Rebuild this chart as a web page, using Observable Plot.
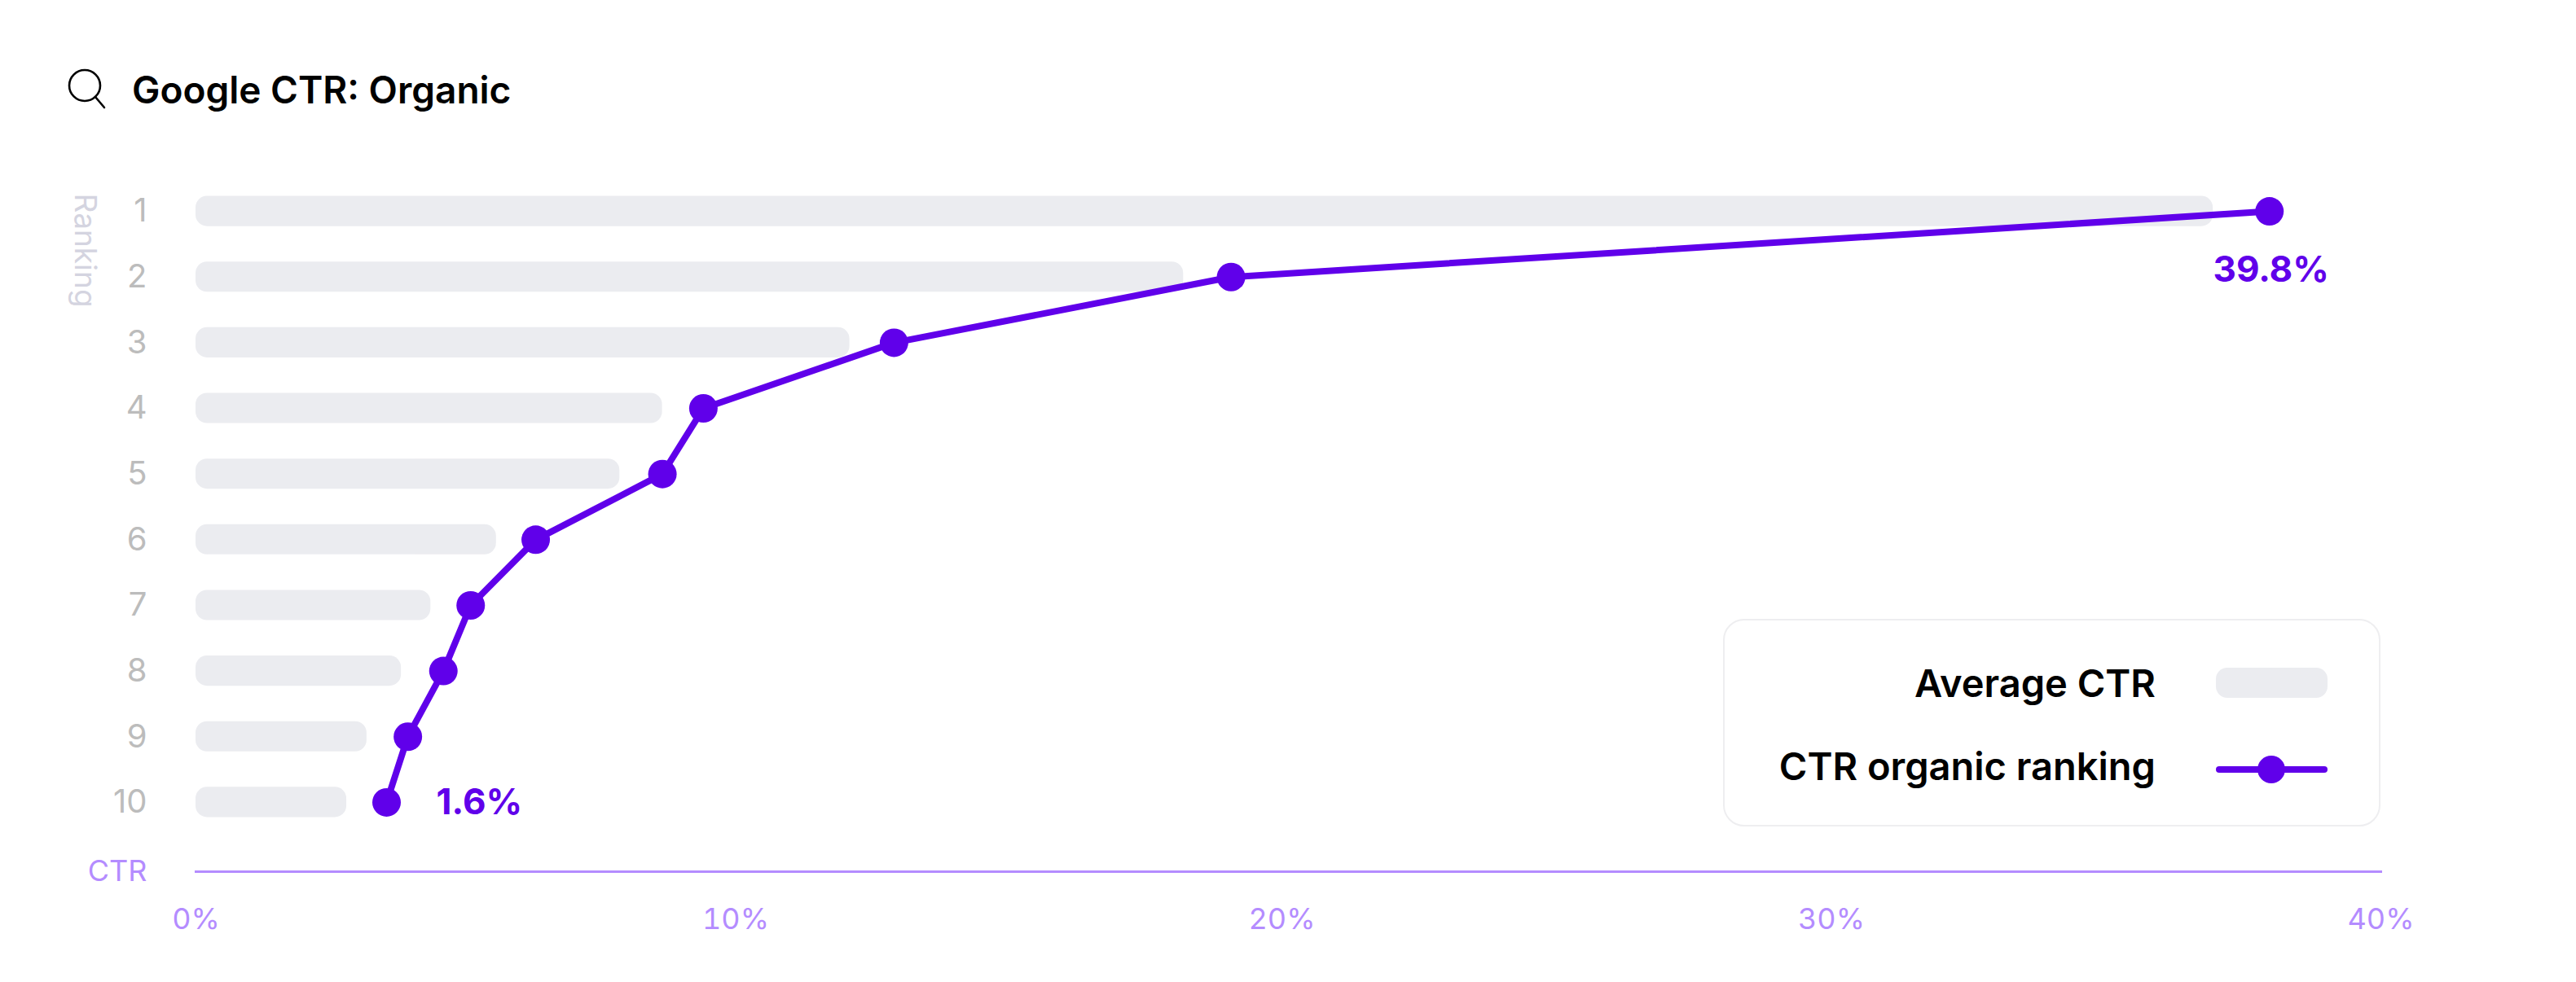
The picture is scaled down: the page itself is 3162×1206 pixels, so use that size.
<!DOCTYPE html>
<html><head><meta charset="utf-8">
<script src="https://cdn.jsdelivr.net/npm/d3@7"></script>
<script src="https://cdn.jsdelivr.net/npm/@observablehq/plot@0.6"></script>
<style>
html,body{margin:0;padding:0;background:#fff;overflow:hidden}
body{width:3162px;height:1206px;position:relative;font-family:Inter,sans-serif}
#head{height:170px;position:relative}
#head svg{position:absolute;left:78px;top:84px}
#head h1{position:absolute;left:162px;top:80px;margin:0;font:600 46px/60px Inter,sans-serif;color:#000;white-space:nowrap}
#legend{position:absolute;left:2115px;top:760px;width:807px;height:255px;box-sizing:border-box;border:2px solid #eeeef0;border-radius:26px;background:#fff}
.row{position:absolute;left:0;right:0;font:600 47px/60px Inter,sans-serif;color:#000;white-space:nowrap}
.row span{position:absolute;right:274px;top:0}
.sw{position:absolute;left:603px;width:137px}
</style></head><body>
<div id="head">
<svg width="54" height="54" viewBox="0 0 54 54" fill="none" stroke="#000" stroke-width="2.6"><circle cx="26" cy="21" r="19"/><path d="M39 35 L50 48" stroke-linecap="round"/></svg>
<h1>Google CTR: Organic</h1>
</div>
<div id="chart"></div>
<div id="legend">
<div class="row" style="top:47px"><span>Average CTR</span><div class="sw" style="top:11px;height:37px;border-radius:14px;background:#ebecf0"></div></div>
<div class="row" style="top:149px"><span>CTR organic ranking</span><div class="sw" style="top:30px;height:8px;border-radius:4px;background:#6000ea"></div><div style="position:absolute;left:654px;top:17px;width:34px;height:34px;border-radius:50%;background:#6000ea"></div></div>
</div>
<script>
const ranks = [1,2,3,4,5,6,7,8,9,10];
const averageCtr = [36.93,18.08,11.97,8.54,7.76,5.5,4.3,3.76,3.13,2.76];
const organicCtr = [37.96,18.95,12.78,9.29,8.54,6.22,5.03,4.53,3.88,3.49];
const xTicksEdge = [0,40];
const xTicksNear = [10,20];
const xTicksThird = [30];
const endLabels = ["39.8%","1.6%"];

const bars = ranks.map((r,i)=>({rank:r,value:averageCtr[i]}));
const pts = ranks.map((r,i)=>({rank:r,value:organicCtr[i]}));
const purple = "#6000ea", lilac = "#b48cff", grey = "#bcbcbc";
const font = "Inter, sans-serif";
const tick = {tickFormat:d=>d+"%",tickSize:0,tickPadding:45,fontSize:36,fill:lilac,fontWeight:400,label:null};

const plot = Plot.plot({
  width:3162, height:1036,
  marginLeft:240, marginRight:240, marginTop:4, marginBottom:136,
  style:{fontFamily:font, background:"#fff", overflow:"visible"},
  x:{domain:[0,40], label:null},
  y:{domain:ranks, label:null, paddingInner:0.54, paddingOuter:0.825, round:false},
  marks:[
    Plot.barX(bars,{x:"value",y:"rank",fill:"#ebecf0",rx:14}),
    Plot.frame({anchor:"bottom",stroke:lilac,strokeWidth:3}),
    Plot.axisX({...tick,ticks:xTicksEdge}),
    Plot.axisX({...tick,ticks:xTicksNear,dx:-8}),
    Plot.axisX({...tick,ticks:xTicksThird,dx:-4}),
    Plot.axisY({tickSize:0,tickPadding:60,fontSize:40,fill:grey,fontWeight:400,label:null}),
    Plot.text(["Ranking"],{frameAnchor:"top-left",dx:-122,dy:63,rotate:90,textAnchor:"start",fontSize:37,fontWeight:400,fill:"#d4d4e0"}),
    Plot.text(["CTR"],{frameAnchor:"bottom-left",dx:-60,textAnchor:"end",lineAnchor:"middle",fontSize:36,fontWeight:400,fill:lilac}),
    Plot.line(pts,{x:"value",y:"rank",stroke:purple,strokeWidth:8,curve:"linear"}),
    Plot.dot(pts,{x:"value",y:"rank",r:17.5,fill:purple}),
    Plot.text([pts[0]],{x:"value",y:"rank",text:()=>endLabels[0],dy:72,dx:2,fontSize:44,fontWeight:700,fill:purple}),
    Plot.text([pts[9]],{x:"value",y:"rank",text:()=>endLabels[1],dx:61,textAnchor:"start",fontSize:44,fontWeight:700,fill:purple})
  ]
});
document.getElementById("chart").appendChild(plot);
</script>
</body></html>
